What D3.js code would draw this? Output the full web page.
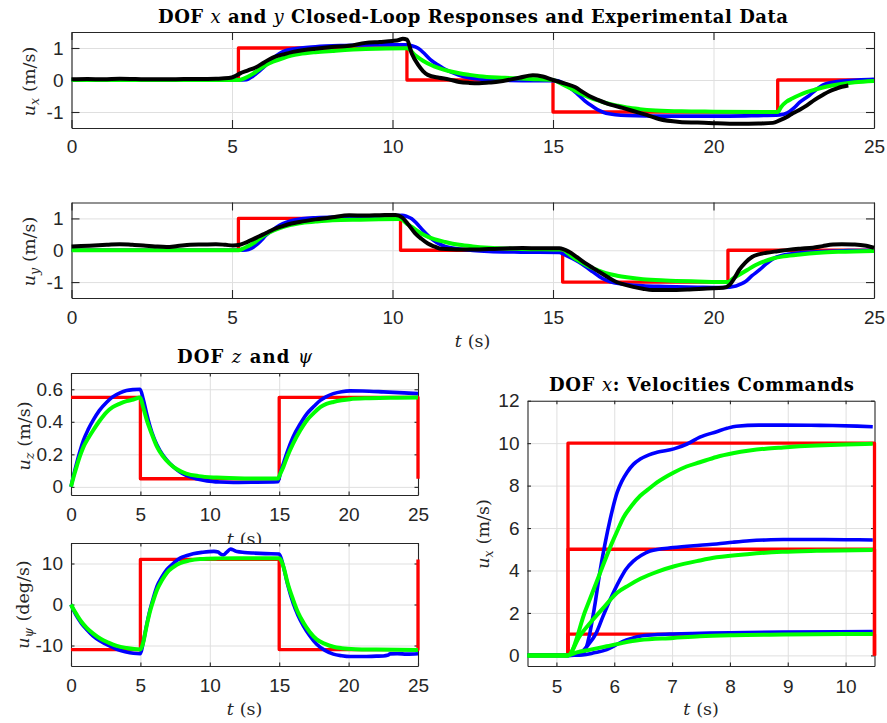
<!DOCTYPE html>
<html>
<head>
<meta charset="utf-8">
<script src="https://cdn.jsdelivr.net/npm/d3@7"></script>
<style>
  body { margin: 0; background: #fff; }
  svg { display: block; }
</style>
</head>
<body>
<div id="chart"></div>
<script>
const width = 887;
const height = 723;

// ---- DOF x (top panel) ----
const uxCmd = [[0,0],[5.2,0],[5.2,1],[10.45,1],[10.45,0],[15,0],[15,-1],[22,-1],[22,0],[25,0]];
const uxResp1 = [[0,0],[5.2,0],[5.45,0.01],[5.65,0.12],[5.85,0.28],[6.06,0.47],[6.28,0.68],[6.48,0.83],[6.7,0.93],[6.9,0.97],[7.6,1.04],[8.5,1.08],[9.5,1.1],[10.4,1.1],[10.6,1.07],[10.8,0.99],[11.0,0.82],[11.2,0.62],[11.45,0.45],[11.64,0.33],[11.85,0.24],[12.08,0.15],[12.4,0.07],[12.7,0.03],[13.5,-0.01],[14.5,-0.02],[15.1,-0.02],[15.4,-0.15],[15.6,-0.3],[15.8,-0.47],[16.0,-0.66],[16.24,-0.83],[16.45,-0.96],[16.65,-1.04],[17.3,-1.11],[18.5,-1.13],[20,-1.13],[21,-1.12],[22.06,-1.09],[22.3,-1.03],[22.5,-0.88],[22.68,-0.7],[23,-0.47],[23.2,-0.3],[23.4,-0.16],[23.93,-0.04],[24.5,0],[25,0.02]];
const uxResp2 = [[0,0],[5.2,0],[5.4,0.06],[5.65,0.19],[5.85,0.33],[6.06,0.47],[6.3,0.58],[6.58,0.68],[6.85,0.76],[7.1,0.81],[7.6,0.87],[8.13,0.91],[9.16,0.97],[10.45,0.99],[10.7,0.78],[10.95,0.6],[11.2,0.47],[11.45,0.37],[11.75,0.28],[12.08,0.21],[12.4,0.16],[12.7,0.12],[13.5,0.07],[14.3,0.03],[15,0],[15.3,-0.14],[15.6,-0.29],[15.85,-0.42],[16.13,-0.54],[16.4,-0.64],[16.65,-0.72],[17.0,-0.8],[17.3,-0.86],[17.7,-0.91],[18.2,-0.95],[19,-0.98],[20,-0.99],[22,-1.0],[22.1,-0.85],[22.27,-0.68],[22.45,-0.58],[22.68,-0.47],[22.9,-0.38],[23.2,-0.29],[23.5,-0.21],[23.93,-0.13],[24.4,-0.07],[25,-0.03]];
const uxExp = [[0,0.02],[0.5,0.03],[1,0.02],[1.5,0.04],[2,0.03],[2.5,0.02],[3,0.02],[3.5,0.03],[4,0.03],[4.5,0.04],[4.9,0.06],[5.1,0.12],[5.24,0.2],[5.5,0.3],[5.75,0.4],[6.0,0.55],[6.27,0.7],[6.6,0.8],[6.9,0.88],[7.25,0.94],[7.6,0.98],[8.1,1.03],[8.65,1.07],[9.16,1.16],[9.6,1.19],[10,1.22],[10.2,1.25],[10.32,1.29],[10.45,1.26],[10.6,0.83],[10.8,0.47],[10.95,0.28],[11.1,0.16],[11.45,0.07],[11.75,0.02],[12.08,-0.06],[12.4,-0.09],[12.7,-0.1],[13.0,-0.08],[13.33,-0.05],[13.7,0.02],[13.95,0.07],[14.37,0.15],[14.68,0.11],[15,0.0],[15.4,-0.12],[15.7,-0.23],[15.9,-0.36],[16.13,-0.5],[16.4,-0.62],[16.65,-0.72],[17.17,-0.87],[17.7,-1.03],[18.0,-1.12],[18.3,-1.22],[18.95,-1.31],[19.5,-1.33],[20,-1.35],[20.8,-1.37],[21.4,-1.36],[21.85,-1.34],[22.06,-1.26],[22.3,-1.15],[22.47,-1.04],[22.7,-0.92],[22.9,-0.8],[23.15,-0.62],[23.4,-0.47],[23.6,-0.36],[23.83,-0.27],[24.0,-0.21],[24.2,-0.17]];

// ---- DOF y ----
const uyCmd = [[0,0],[5.2,0],[5.2,1],[10.25,1],[10.25,0],[15.3,0],[15.3,-1],[20.45,-1],[20.45,0],[25,0]];
const uyResp1 = [[0,0],[5.2,0],[5.44,0.01],[5.6,0.06],[5.75,0.16],[5.9,0.3],[6.06,0.47],[6.27,0.64],[6.48,0.78],[6.7,0.88],[6.9,0.94],[7.6,1.02],[8.5,1.05],[9.5,1.07],[10.3,1.1],[10.45,1.06],[10.6,0.99],[10.75,0.85],[10.9,0.68],[11.05,0.52],[11.2,0.37],[11.4,0.23],[11.64,0.12],[12.08,0.04],[12.5,-0.01],[13,-0.04],[14,-0.06],[15.2,-0.07],[15.4,-0.16],[15.6,-0.26],[15.8,-0.37],[16.0,-0.5],[16.24,-0.68],[16.45,-0.83],[16.65,-0.94],[16.9,-1.02],[17.17,-1.06],[17.8,-1.12],[18.5,-1.14],[19.5,-1.16],[20.3,-1.17],[20.7,-1.12],[20.85,-1.06],[21.0,-0.98],[21.2,-0.8],[21.43,-0.62],[21.65,-0.42],[21.85,-0.27],[22.1,-0.17],[22.37,-0.12],[22.8,-0.07],[23.4,-0.04],[24.2,-0.01],[25,0]];
const uyResp2 = [[0,0],[5.2,0],[5.4,0.08],[5.65,0.21],[5.85,0.36],[6.06,0.5],[6.3,0.62],[6.58,0.73],[6.85,0.8],[7.1,0.85],[7.6,0.9],[8.13,0.94],[9,0.96],[10.25,0.98],[10.45,0.83],[10.6,0.73],[10.8,0.59],[11.0,0.47],[11.3,0.35],[11.64,0.26],[12.08,0.17],[12.5,0.12],[13,0.08],[14,0.04],[15.3,0.02],[15.45,-0.08],[15.6,-0.2],[15.85,-0.36],[16.13,-0.52],[16.4,-0.63],[16.65,-0.72],[17.0,-0.8],[17.3,-0.85],[17.8,-0.91],[18.5,-0.95],[19.5,-0.98],[20.45,-1.0],[20.6,-0.89],[20.8,-0.77],[21.05,-0.62],[21.3,-0.47],[21.6,-0.34],[21.85,-0.26],[22.2,-0.19],[22.7,-0.13],[23.3,-0.08],[23.9,-0.05],[25,-0.02]];
const uyExp = [[0,0.12],[0.3,0.13],[0.7,0.15],[1.1,0.17],[1.5,0.19],[1.9,0.17],[2.24,0.15],[2.6,0.12],[2.96,0.1],[3.3,0.13],[3.7,0.17],[4.1,0.18],[4.5,0.19],[4.8,0.17],[5.03,0.15],[5.24,0.17],[5.45,0.25],[5.65,0.34],[5.85,0.44],[6.06,0.54],[6.3,0.66],[6.58,0.76],[6.85,0.84],[7.1,0.89],[7.6,0.97],[8.13,1.04],[8.65,1.1],[9.16,1.09],[9.6,1.1],[10.1,1.11],[10.3,1.03],[10.5,0.8],[10.7,0.54],[10.9,0.36],[11.1,0.21],[11.3,0.12],[11.5,0.05],[12.5,0.02],[13.3,0.05],[14.05,0.07],[14.6,0.06],[15.2,0.06],[15.5,-0.05],[15.75,-0.22],[16.03,-0.42],[16.25,-0.56],[16.44,-0.68],[16.7,-0.84],[16.96,-0.99],[17.2,-1.07],[17.5,-1.15],[17.8,-1.21],[18.1,-1.25],[18.6,-1.25],[19.25,-1.23],[19.8,-1.2],[20.3,-1.18],[20.5,-1.09],[20.65,-0.88],[20.8,-0.62],[21.0,-0.38],[21.2,-0.21],[21.4,-0.13],[21.65,-0.08],[22.0,-0.03],[22.37,0.02],[22.7,0.05],[23.1,0.08],[23.4,0.13],[23.72,0.18],[24.0,0.19],[24.35,0.18],[24.7,0.15],[25,0.08]];

// ---- DOF z ----
const uzCmd = [[0,0.55],[5,0.55],[5,0.05],[15,0.05],[15,0.55],[25,0.55],[25,0.05]];
const uzResp1 = [[0,0],[0.2,0.075],[0.4,0.143],[0.65,0.22],[0.9,0.287],[1.25,0.355],[1.6,0.41],[2.05,0.47],[2.57,0.52],[3.0,0.553],[3.53,0.578],[4.0,0.592],[4.5,0.598],[4.98,0.6],[5.2,0.54],[5.45,0.45],[5.7,0.37],[6.0,0.295],[6.4,0.225],[6.9,0.165],[7.38,0.123],[7.8,0.095],[8.3,0.07],[9.0,0.05],[9.8,0.037],[10.7,0.03],[11.7,0.027],[13,0.028],[14.9,0.031],[15.1,0.09],[15.3,0.143],[15.6,0.22],[16,0.307],[16.5,0.385],[17,0.45],[17.5,0.495],[17.96,0.532],[18.4,0.555],[18.9,0.573],[19.5,0.585],[20.1,0.59],[21,0.589],[22.5,0.584],[24,0.578],[25,0.573]];
const uzResp2 = [[0,0],[0.2,0.065],[0.4,0.123],[0.65,0.19],[0.9,0.246],[1.25,0.3],[1.6,0.348],[2.05,0.405],[2.57,0.46],[3.0,0.49],[3.53,0.512],[4.0,0.527],[4.5,0.537],[4.98,0.549],[5.2,0.49],[5.46,0.41],[5.8,0.33],[6.2,0.246],[6.6,0.19],[7.1,0.143],[7.6,0.11],[8.3,0.082],[9.2,0.066],[10.5,0.057],[12.5,0.052],[14.9,0.051],[15.1,0.085],[15.3,0.123],[15.6,0.19],[16,0.266],[16.5,0.345],[17,0.41],[17.5,0.455],[17.96,0.49],[18.4,0.51],[18.9,0.522],[19.5,0.532],[20.1,0.539],[21.5,0.545],[23,0.548],[25,0.549]];

// ---- DOF psi ----
const upsiCmd = [[0,-11],[5,-11],[5,11],[15,11],[15,-11],[25,-11],[25,11]];
const upsiResp1 = [[0,0],[0.2,-1.5],[0.4,-2.8],[0.75,-4.6],[1.13,-6.1],[1.6,-7.7],[2.1,-8.9],[2.7,-10.0],[3.3,-10.9],[3.9,-11.5],[4.5,-11.9],[5,-12],[5.2,-9.3],[5.45,-5.0],[5.7,-1.2],[5.95,1.8],[6.2,4.45],[6.55,6.7],[6.9,8.5],[7.4,10.1],[7.86,11.3],[8.3,11.9],[8.8,12.4],[9.5,12.75],[10.3,12.95],[10.6,12.8],[10.75,12.4],[11.0,12.1],[11.2,12.7],[11.5,13.5],[11.75,13.2],[11.95,12.9],[12.5,12.7],[13.15,12.55],[14,12.4],[15,12.3],[15.3,9.3],[15.6,5.0],[16,0.4],[16.35,-2.6],[16.75,-5.26],[17.2,-7.6],[17.7,-9.7],[18.3,-11.2],[18.9,-12.1],[19.5,-12.5],[20.1,-12.7],[21,-12.7],[22,-12.6],[22.5,-12.55],[22.8,-12.4],[23.0,-12.05],[23.5,-12.0],[24.2,-12.1],[25,-12.0]];
const upsiResp2 = [[0,0],[0.2,-1.3],[0.4,-2.4],[0.75,-4.2],[1.13,-5.7],[1.6,-7.1],[2.1,-8.3],[2.7,-9.3],[3.3,-10.1],[4.0,-10.6],[5,-10.95],[5.2,-9.3],[5.45,-5.2],[5.7,-1.6],[5.95,1.2],[6.2,3.6],[6.55,5.9],[6.9,7.7],[7.4,9.2],[7.86,10.1],[8.5,10.7],[9.3,11.1],[10.5,11.25],[12,11.3],[15,11.3],[15.3,9.3],[15.6,5.3],[16,1.2],[16.35,-1.9],[16.75,-4.45],[17.2,-6.7],[17.7,-8.5],[18.3,-9.6],[18.9,-10.3],[19.5,-10.65],[20.5,-10.9],[22,-11.0],[25,-11.1]];

// ---- DOF x velocity commands (1, 5, 10 m/s) ----
const cmd10 = [[4.5,0],[5.2,0],[5.2,10],[10.5,10],[10.5,0]];
const cmd5 = [[4.5,0],[5.2,0],[5.2,5],[10.5,5],[10.5,0]];
const cmd1 = [[4.5,0],[5.2,0],[5.2,1],[10.5,1],[10.5,0]];
const resp10a = [[4.5,0],[5.2,0],[5.4,0.02],[5.5,0.25],[5.55,0.7],[5.66,2.3],[5.75,3.9],[5.84,5.25],[5.93,6.42],[6.05,7.68],[6.13,8.2],[6.22,8.62],[6.33,9.0],[6.45,9.25],[6.6,9.45],[6.74,9.57],[7.03,9.73],[7.26,9.96],[7.48,10.28],[7.77,10.54],[7.95,10.7],[8.11,10.8],[8.5,10.85],[8.92,10.85],[9.4,10.84],[9.78,10.83],[10.2,10.8],[10.47,10.77]];
const resp10b = [[4.5,0],[5.2,0],[5.5,2.1],[5.75,3.85],[5.95,5.23],[6.05,5.85],[6.16,6.5],[6.3,7.05],[6.45,7.52],[6.6,7.85],[6.74,8.15],[7.03,8.62],[7.25,8.9],[7.48,9.1],[7.77,9.35],[8.05,9.52],[8.34,9.65],[8.62,9.74],[8.92,9.8],[9.2,9.85],[9.49,9.89],[10.0,9.94],[10.47,9.97]];
const resp5a = [[4.5,0],[5.2,0],[5.4,0.1],[5.55,0.5],[5.69,1.06],[5.8,1.8],[5.93,2.63],[6.1,3.58],[6.2,4.05],[6.33,4.44],[6.47,4.72],[6.62,4.92],[7.02,5.08],[7.48,5.19],[7.77,5.25],[8.05,5.33],[8.34,5.4],[8.62,5.44],[8.92,5.46],[9.5,5.46],[10.0,5.45],[10.47,5.44]];
const resp5b = [[4.5,0],[5.2,0],[5.4,0.9],[5.59,1.55],[5.8,2.2],[6.05,2.95],[6.25,3.3],[6.46,3.62],[6.75,3.95],[7.04,4.2],[7.48,4.47],[7.77,4.62],[8.34,4.78],[8.9,4.88],[9.5,4.93],[10.47,4.97]];
const resp1a = [[4.5,0],[5.2,0],[5.45,0.02],[5.65,0.12],[5.87,0.27],[6.0,0.45],[6.15,0.66],[6.3,0.8],[6.44,0.9],[6.7,0.97],[7.02,1.01],[7.5,1.04],[8,1.07],[8.92,1.1],[10.47,1.12]];
const resp1b = [[4.5,0],[5.2,0],[5.35,0.14],[5.59,0.27],[5.87,0.43],[6.15,0.59],[6.44,0.72],[7.02,0.82],[7.48,0.9],[8.06,0.95],[8.92,0.98],[10.47,1.01]];

// tick values
const tTicks = [0, 5, 10, 15, 20, 25];
const uxyTicks = [-1, 0, 1];
const uzTicks = [0, 0.2, 0.4, 0.6];
const upsiTicks = [-10, 0, 10];
const velTTicks = [5, 6, 7, 8, 9, 10];
const velTicks = [0, 2, 4, 6, 8, 10, 12];

const RED = '#ff0000', BLUE = '#0000ff', GREEN = '#00ff00', BLACK = '#000000';
const AX = '#262626';
const SERIF = '"DejaVu Serif", serif';

const svg = d3.select('#chart')
  .append('svg')
  .attr('width', width)
  .attr('height', height);

function panel(p) {
  const x = d3.scaleLinear().domain(p.xDomain).range([p.left, p.right]);
  const y = d3.scaleLinear().domain(p.yDomain).range([p.bottom, p.top]);
  const w = p.right - p.left;
  const h = p.bottom - p.top;
  const g = svg.append('g');

  g.append('rect')
    .attr('x', p.left).attr('y', p.top)
    .attr('width', w).attr('height', h)
    .attr('fill', '#fff');

  // grid
  g.append('g')
    .attr('transform', `translate(0,${p.bottom})`)
    .call(d3.axisBottom(x).tickValues(p.xTicks).tickSize(-h).tickFormat(''))
    .call(a => a.select('.domain').remove())
    .selectAll('line').attr('stroke', '#dfdfdf');
  g.append('g')
    .attr('transform', `translate(${p.left},0)`)
    .call(d3.axisLeft(y).tickValues(p.yTicks).tickSize(-w).tickFormat(''))
    .call(a => a.select('.domain').remove())
    .selectAll('line').attr('stroke', '#dfdfdf');

  // box with inward ticks
  const fmt = d => String(d);
  const axes = [
    [d3.axisBottom(x).tickValues(p.xTicks).tickPadding(p.xPad).tickFormat(fmt), `translate(0,${p.bottom})`],
    [d3.axisTop(x).tickValues(p.xTicks).tickFormat(''), `translate(0,${p.top})`],
    [d3.axisLeft(y).tickValues(p.yTicks).tickPadding(8).tickFormat(fmt), `translate(${p.left},0)`],
    [d3.axisRight(y).tickValues(p.yTicks).tickFormat(''), `translate(${p.right},0)`],
  ];
  axes.forEach(([ax, tr]) => {
    g.append('g')
      .attr('transform', tr)
      .call(ax.tickSizeInner(-p.tick).tickSizeOuter(0))
      .attr('color', AX)
      .attr('font-size', 19)
      .attr('font-family', '"Liberation Sans", Arial, sans-serif')
      .call(a => a.selectAll('path, line').attr('stroke-width', 1.1));
  });

  // data
  p.series.forEach(s => {
    g.append('path')
      .datum(s.pts)
      .attr('fill', 'none')
      .attr('stroke', s.color)
      .attr('stroke-width', s.w)
      .attr('stroke-linejoin', 'round')
      .attr('d', d3.line()
        .x(d => x(d[0]))
        .y(d => y(d[1]))
        .curve(s.step ? d3.curveLinear : d3.curveMonotoneX));
  });
}

function yLabel(cx, cy, sub, unit) {
  const t = svg.append('text')
    .attr('transform', `translate(${cx},${cy}) rotate(-90)`)
    .attr('text-anchor', 'middle')
    .attr('font-family', SERIF)
    .attr('font-size', 17.5)
    .attr('fill', AX);
  t.append('tspan').attr('font-style', 'italic').text('u');
  t.append('tspan').attr('font-style', 'italic').attr('font-size', 12.5).attr('dy', 4).text(sub);
  t.append('tspan').attr('dy', -4).attr('dx', 6).text(unit);
}

function tLabel(cx, by) {
  const t = svg.append('text')
    .attr('x', cx).attr('y', by)
    .attr('text-anchor', 'middle')
    .attr('font-family', SERIF)
    .attr('font-size', 17.5)
    .attr('fill', AX);
  t.append('tspan').attr('font-style', 'italic').text('t');
  t.append('tspan').attr('dx', 6).text('(s)');
}

function title(cx, by, len, parts) {
  const t = svg.append('text')
    .attr('x', cx).attr('y', by)
    .attr('text-anchor', 'middle')
    .attr('font-family', SERIF)
    .attr('font-size', 18)
    .attr('fill', '#000')
    .attr('textLength', len)
    .attr('lengthAdjust', 'spacing');
  parts.forEach(([txt, math]) => {
    t.append('tspan')
      .attr('font-weight', math ? 'normal' : 'bold')
      .attr('font-style', math ? 'italic' : 'normal')
      .text(txt);
  });
}

const stepW = 3.3, simW = 3.6, linW = 4, expW = 4;

panel({
  left: 71.5, right: 874, top: 32, bottom: 128, tick: 8, xPad: 12,
  xDomain: [0, 25], yDomain: [-1.5, 1.5], xTicks: tTicks, yTicks: uxyTicks,
  series: [
    { pts: uxCmd, color: RED, w: stepW, step: true },
    { pts: uxResp1, color: BLUE, w: simW },
    { pts: uxResp2, color: GREEN, w: linW },
    { pts: uxExp, color: BLACK, w: expW },
  ],
});
panel({
  left: 71.5, right: 874, top: 202.5, bottom: 298, tick: 8, xPad: 13,
  xDomain: [0, 25], yDomain: [-1.5, 1.5], xTicks: tTicks, yTicks: uxyTicks,
  series: [
    { pts: uyCmd, color: RED, w: stepW, step: true },
    { pts: uyResp1, color: BLUE, w: simW },
    { pts: uyResp2, color: GREEN, w: linW },
    { pts: uyExp, color: BLACK, w: expW },
  ],
});
panel({
  left: 71, right: 418, top: 373, bottom: 495, tick: 3.5, xPad: 13,
  xDomain: [0, 25], yDomain: [-0.05, 0.7], xTicks: tTicks, yTicks: uzTicks,
  series: [
    { pts: uzCmd, color: RED, w: stepW, step: true },
    { pts: uzResp1, color: BLUE, w: simW },
    { pts: uzResp2, color: GREEN, w: linW },
  ],
});
// hidden x label of the z panel, partly covered by the psi panel
tLabel(244.5, 545);
panel({
  left: 71, right: 418, top: 543, bottom: 666, tick: 3.5, xPad: 13,
  xDomain: [0, 25], yDomain: [-15, 15], xTicks: tTicks, yTicks: upsiTicks,
  series: [
    { pts: upsiCmd, color: RED, w: stepW, step: true },
    { pts: upsiResp1, color: BLUE, w: simW },
    { pts: upsiResp2, color: GREEN, w: linW },
  ],
});
panel({
  left: 527.5, right: 874.5, top: 400.7, bottom: 666, tick: 3.5, xPad: 14,
  xDomain: [4.5, 10.5], yDomain: [-0.5, 12], xTicks: velTTicks, yTicks: velTicks,
  series: [
    { pts: cmd10, color: RED, w: stepW, step: true },
    { pts: cmd5, color: RED, w: stepW, step: true },
    { pts: cmd1, color: RED, w: stepW, step: true },
    { pts: resp10a, color: BLUE, w: simW },
    { pts: resp5a, color: BLUE, w: simW },
    { pts: resp1a, color: BLUE, w: simW },
    { pts: resp10b, color: GREEN, w: linW },
    { pts: resp5b, color: GREEN, w: linW },
    { pts: resp1b, color: GREEN, w: linW },
  ],
});

// labels
yLabel(35, 81.5, 'x', '(m/s)');
yLabel(35, 251.5, 'y', '(m/s)');
yLabel(30, 436, 'z', '(m/s)');
yLabel(29, 604.5, 'ψ', '(deg/s)');
yLabel(489, 534, 'x', '(m/s)');
tLabel(472.5, 347);
tLabel(244.5, 715);
tLabel(701, 715);

title(473, 22.5, 630, [['DOF ', false], ['x', true], [' and ', false], ['y', true], [' Closed-Loop Responses and Experimental Data', false]]);
title(244.5, 362.5, 135, [['DOF ', false], ['z', true], [' and ', false], ['ψ', true]]);
title(701.5, 390.5, 305, [['DOF ', false], ['x', true], [': Velocities Commands', false]]);
</script>
</body>
</html>
